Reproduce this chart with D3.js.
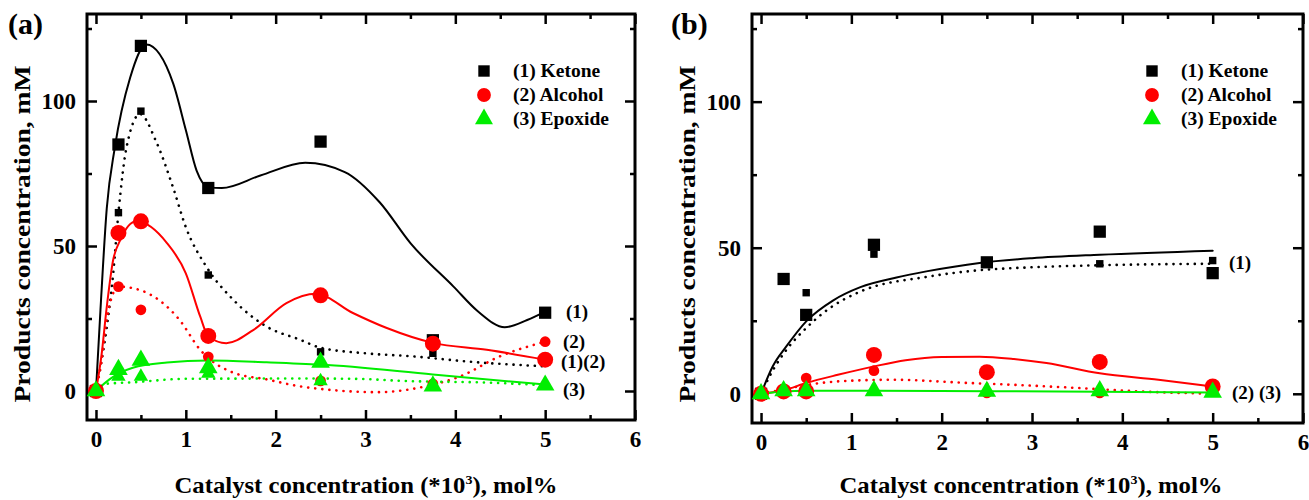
<!DOCTYPE html>
<html>
<head>
<meta charset="utf-8">
<script src="https://cdn.jsdelivr.net/npm/d3@7"></script>
<style>
body { margin: 0; background: #fff; }
svg text { font-family: "Liberation Serif", "Times New Roman", serif !important; font-weight: bold; }
</style>
</head>
<body>
<svg width="1309" height="500"></svg>
<script>
var xs = [0, 0.25, 0.5, 1.25, 2.5, 3.75, 5];

// panel (a) measured points
var ketoneA = [0, 85, 119, 70, 86, 17.5, 27];
var ketoneA2 = [0, 61.5, 96.5, 40, 13.5, 13, 10];
var alcoholA = [0, 54.5, 58.5, 19, 33, 16.3, 10.8];
var alcoholA2 = [0, 36, 28, 11.8, 3.5, 2.5, 17];
var epoxideA = [0, 7.4, 10.6, 8, 9.9, 1.7, 2];
var epoxideA2 = [0, 5, 5, 6, 3.4, 2, 2];

// panel (a) fitted curves [x, y]
var fitKetoneA = [[0,0],[0.05,28],[0.12,63],[0.21,84],[0.38,108],[0.56,119.5],[0.86,106],[1.0,90],[1.12,76],[1.25,70.3],[1.4,70],[1.83,74.3],[2.33,78.7],[2.77,75.5],[3.16,65],[3.5,51],[3.98,36],[4.25,27.5],[4.55,22],[4.8,24.5],[5,27.4]];
var fitKetoneA2 = [[0,0],[0.06,10],[0.12,22],[0.19,40],[0.25,61.5],[0.34,84],[0.49,95.5],[0.67,86],[0.86,70],[1.0,56.5],[1.23,42.8],[1.53,31.4],[1.9,22.2],[2.27,17.7],[2.49,15],[3.0,13],[3.5,12],[4.2,10],[5,8.5]];
var fitAlcoholA = [[0,0],[0.06,12],[0.12,29],[0.19,45],[0.27,52],[0.45,58.5],[0.79,51],[1.0,40.6],[1.16,25.7],[1.25,18.8],[1.45,16.5],[1.75,21],[2.12,30.3],[2.45,33.5],[2.86,26.9],[3.23,21.8],[3.75,16.6],[4.35,14.2],[5,10.8]];
var fitAlcoholA2 = [[0,0],[0.06,10],[0.12,25],[0.25,36],[0.49,34.8],[0.93,24.5],[1.16,14.2],[1.53,6.3],[1.9,4],[2.27,1.6],[2.6,0.4],[3.13,-0.4],[3.75,2.2],[4.05,5],[4.5,12],[5,17]];
var fitEpoxideA = [[0,0],[0.15,4],[0.41,8],[0.79,9.8],[1.25,10.5],[1.9,9.9],[2.5,9.1],[3.75,5.7],[5,2.2]];
var fitEpoxideA2 = [[0,0],[0.12,2.5],[0.41,3],[1.0,4.2],[2.27,4.3],[2.86,4.2],[3.5,3.4],[4.35,2.9],[5,2]];

// panel (b) measured points
var ketoneB = [0, 39.3, 27, 51, 45, 55.5, 41.3];
var ketoneB2 = [0, 39.3, 34.6, 47.8, 44.5, 44.5, 45.6];
var alcoholB = [0, 0.8, 0.8, 13.3, 7.4, 10.9, 2.5];
var alcoholB2 = [0, 1.2, 5.4, 7.9, 0.3, 0.3, 0.8];
var epoxideB = [0, 1, 1, 1, 0.8, 1, 0.5];

// panel (b) fitted curves
var fitKetoneB = [[0,0],[0.13,9.4],[0.28,16.2],[0.5,24.8],[0.8,32],[1.1,36.5],[1.5,39.8],[1.83,41.9],[2.42,44.8],[3.0,46.4],[3.75,47.6],[5,49]];
var fitKetoneB2 = [[0,0],[0.13,8],[0.28,15],[0.5,22.5],[0.69,27.7],[1.1,35],[1.83,40],[2.42,42.3],[3.0,43.3],[3.75,44],[5,44.5]];
var fitAlcoholB = [[0,0],[0.25,1.2],[0.5,3.7],[0.85,6.5],[1.24,9.3],[1.6,11.5],[2.0,12.6],[2.42,12.7],[2.8,11.9],[3.16,10.5],[3.75,7],[4.4,4.8],[5,2.5]];
var fitAlcoholB2 = [[0,0],[0.25,1.5],[0.5,3],[1.0,4.5],[1.46,4.8],[2.3,3.7],[2.77,3.1],[3.5,2],[4.2,0.8],[5,0]];
var fitEpoxideB = [[0,0],[0.25,0.8],[0.5,1],[1.25,1],[2.5,0.9],[3.75,0.7],[5,0.4]];

var yTicks = [0, 50, 100];
var yMinor = [25, 75, 125];
var xTicks = [0, 1, 2, 3, 4, 5, 6];
var xMinor = [0.5, 1.5, 2.5, 3.5, 4.5, 5.5];
var legendNames = ["(1) Ketone", "(2) Alcohol", "(3) Epoxide"];

var BLACK = "#000", RED = "#ff0000", GREEN = "#00ee00";

var svg = d3.select("svg");

function drawPanel(p) {
  var x = d3.scaleLinear().domain([-0.1, 6]).range([p.left, p.right]);
  var y = d3.scaleLinear().domain([-10, 130]).range([p.bottom, p.top]);
  var g = svg.append("g");

  // ticks: bottom, top, left, right (all inward)
  g.append("g").attr("transform", "translate(0," + p.bottom + ")")
    .call(d3.axisBottom(x).tickValues(xTicks).tickSize(-10).tickPadding(11).tickFormat(d3.format("d")));
  g.append("g").attr("transform", "translate(0," + p.bottom + ")")
    .call(d3.axisBottom(x).tickValues(xMinor).tickSize(-5).tickFormat(""));
  g.append("g").attr("transform", "translate(0," + p.top + ")")
    .call(d3.axisTop(x).tickValues(xTicks).tickSize(-10).tickFormat(""));
  g.append("g").attr("transform", "translate(0," + p.top + ")")
    .call(d3.axisTop(x).tickValues(xMinor).tickSize(-5).tickFormat(""));
  g.append("g").attr("transform", "translate(" + p.left + ",0)")
    .call(d3.axisLeft(y).tickValues(yTicks).tickSize(-10).tickPadding(11).tickFormat(d3.format("d")));
  g.append("g").attr("transform", "translate(" + p.left + ",0)")
    .call(d3.axisLeft(y).tickValues(yMinor).tickSize(-5).tickFormat(""));
  g.append("g").attr("transform", "translate(" + p.right + ",0)")
    .call(d3.axisRight(y).tickValues(yTicks).tickSize(-10).tickFormat(""));
  g.append("g").attr("transform", "translate(" + p.right + ",0)")
    .call(d3.axisRight(y).tickValues(yMinor).tickSize(-5).tickFormat(""));
  g.selectAll(".domain").remove();
  g.selectAll(".tick line").attr("stroke", BLACK).attr("stroke-width", 2.5);
  g.selectAll(".tick text").attr("fill", BLACK).style("font-size", "23px");

  g.append("rect").attr("x", p.left).attr("y", p.top)
    .attr("width", p.right - p.left).attr("height", p.bottom - p.top)
    .attr("fill", "none").attr("stroke", BLACK).attr("stroke-width", 3);

  var line = d3.line().x(function(d){return x(d[0]);}).y(function(d){return y(d[1]);})
    .curve(d3.curveMonotoneX);

  p.curves.forEach(function(c) {
    g.append("path").attr("d", line(c.data)).attr("fill", "none")
      .attr("stroke", c.color).attr("stroke-width", c.dotted ? 2.6 : 2)
      .attr("stroke-linecap", "round")
      .attr("stroke-dasharray", c.dotted ? "0.1,7" : null);
  });

  var sym = { square: d3.symbolSquare, circle: d3.symbolCircle, triangle: d3.symbolTriangle };
  p.points.forEach(function(s) {
    g.selectAll(null).data(s.values.map(function(v, i){ return [xs[i], v]; }))
      .enter().append("path")
      .attr("transform", function(d){ return "translate(" + x(d[0]) + "," + y(d[1]) + ")"; })
      .attr("d", d3.symbol().type(sym[s.shape]).size(s.size))
      .attr("fill", s.color);
  });

  // legend
  var lg = g.append("g").attr("transform", "translate(" + p.legendX + "," + p.legendY + ")");
  var lshapes = [["square", BLACK, 130], ["circle", RED, 150], ["triangle", GREEN, 140]];
  legendNames.forEach(function(name, i) {
    lg.append("path").attr("transform", "translate(0," + (i * 24) + ")")
      .attr("d", d3.symbol().type(sym[lshapes[i][0]]).size(lshapes[i][2]))
      .attr("fill", lshapes[i][1]);
    lg.append("text").attr("x", 29).attr("y", i * 24 + 6).style("font-size", "19.5px").text(name);
  });

  // side labels
  p.sideLabels.forEach(function(l) {
    g.append("text").attr("x", l[0]).attr("y", l[1]).style("font-size", "19px").text(l[2]);
  });

  // panel letter
  g.append("text").attr("x", p.letterX).attr("y", 34).style("font-size", "30px").text(p.letter);

  // axis titles
  var xt = g.append("text").attr("x", p.xTitleX).attr("y", 493).attr("text-anchor", "middle")
    .style("font-size", "23px").attr("textLength", 383).attr("lengthAdjust", "spacingAndGlyphs");
  xt.append("tspan").text("Catalyst concentration (*10");
  xt.append("tspan").attr("dy", -9).style("font-size", "13px").text("3");
  xt.append("tspan").attr("dy", 9).text("), mol%");
  g.append("text").attr("transform", "translate(" + p.yTitleX + ",234) rotate(-90)")
    .attr("text-anchor", "middle").style("font-size", "23px")
    .attr("textLength", 337).attr("lengthAdjust", "spacingAndGlyphs")
    .text("Products concentration, mM");
}

drawPanel({
  left: 87, right: 635, top: 14, bottom: 420,
  letter: "(a)", letterX: 8, xTitleX: 366, yTitleX: 30,
  legendX: 484, legendY: 71,
  curves: [
    { data: fitKetoneA, color: BLACK }, { data: fitKetoneA2, color: BLACK, dotted: true },
    { data: fitAlcoholA, color: RED }, { data: fitAlcoholA2, color: RED, dotted: true },
    { data: fitEpoxideA, color: GREEN }, { data: fitEpoxideA2, color: GREEN, dotted: true }
  ],
  points: [
    { values: ketoneA, shape: "square", color: BLACK, size: 150 },
    { values: ketoneA2, shape: "square", color: BLACK, size: 55 },
    { values: alcoholA, shape: "circle", color: RED, size: 200 },
    { values: alcoholA2, shape: "circle", color: RED, size: 90 },
    { values: epoxideA, shape: "triangle", color: GREEN, size: 150 },
    { values: epoxideA2, shape: "triangle", color: GREEN, size: 90 }
  ],
  sideLabels: [[566, 318, "(1)"], [563, 348, "(2)"], [561, 368, "(1)(2)"], [563, 396, "(3)"]]
});

drawPanel({
  left: 752, right: 1303, top: 14, bottom: 423,
  letter: "(b)", letterX: 671, xTitleX: 1031, yTitleX: 695,
  legendX: 1152, legendY: 71,
  curves: [
    { data: fitKetoneB, color: BLACK }, { data: fitKetoneB2, color: BLACK, dotted: true },
    { data: fitAlcoholB, color: RED }, { data: fitAlcoholB2, color: RED, dotted: true },
    { data: fitEpoxideB, color: GREEN }
  ],
  points: [
    { values: ketoneB, shape: "square", color: BLACK, size: 150 },
    { values: ketoneB2, shape: "square", color: BLACK, size: 55 },
    { values: alcoholB, shape: "circle", color: RED, size: 200 },
    { values: alcoholB2, shape: "circle", color: RED, size: 90 },
    { values: epoxideB, shape: "triangle", color: GREEN, size: 150 }
  ],
  sideLabels: [[1229, 269, "(1)"], [1232, 399, "(2) (3)"]]
});
</script>
</body>
</html>
